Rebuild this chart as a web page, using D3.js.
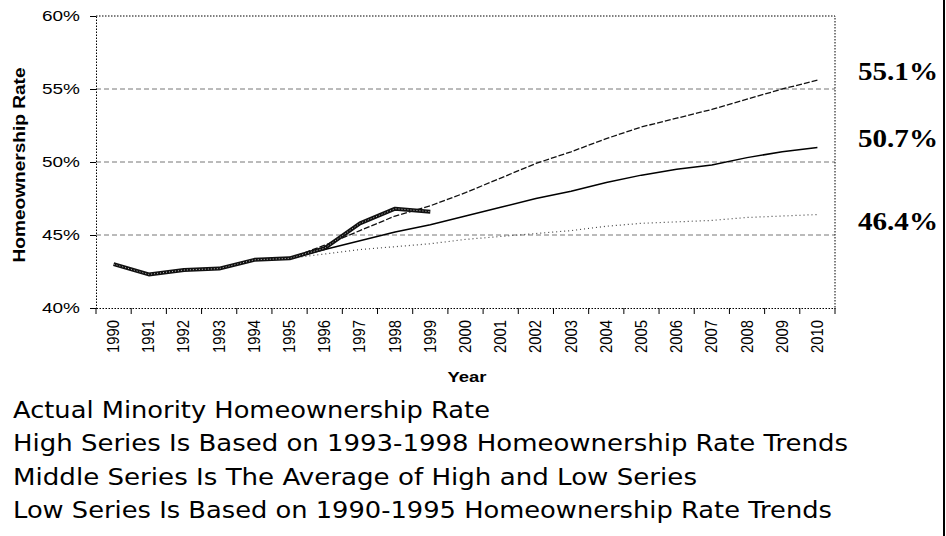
<!DOCTYPE html>
<html>
<head>
<meta charset="utf-8">
<script src="https://cdn.jsdelivr.net/npm/d3@7"></script>
<style>
  body { margin: 0; background: #fff; }
  svg { display: block; }
</style>
</head>
<body>
<div id="chart"></div>
<script>
// Data.
const years = ['1990', '1991', '1992', '1993', '1994', '1995', '1996', '1997', '1998', '1999', '2000',
  '2001', '2002', '2003', '2004', '2005', '2006', '2007', '2008', '2009', '2010'];
const actualYears = ['1990', '1991', '1992', '1993', '1994', '1995', '1996', '1997', '1998', '1999'];
const actual = [43.0, 42.3, 42.6, 42.7, 43.3, 43.4, 44.1, 45.8, 46.8, 46.6];
const projYears = ['1995', '1996', '1997', '1998', '1999', '2000', '2001', '2002',
  '2003', '2004', '2005', '2006', '2007', '2008', '2009', '2010'];
const high = [43.4, 44.3, 45.3, 46.3, 47.0, 47.9, 48.9, 49.9, 50.7, 51.6, 52.4, 53.0, 53.6, 54.3, 55.0, 55.6];
const middle = [43.4, 44.0, 44.6, 45.2, 45.7, 46.3, 46.9, 47.5, 48.0, 48.6, 49.1, 49.5, 49.8, 50.3, 50.7, 51.0];
const low = [43.4, 43.7, 44.0, 44.2, 44.4, 44.7, 44.9, 45.1, 45.3, 45.6, 45.8, 45.9, 46.0, 46.2, 46.3, 46.4];
const yTicks = [40, 45, 50, 55, 60];
const endLabels = ['55.1%', '50.7%', '46.4%'];
const notes = [
  'Actual Minority Homeownership Rate',
  'High Series Is Based on 1993-1998 Homeownership Rate Trends',
  'Middle Series Is The Average of High and Low Series',
  'Low Series Is Based on 1990-1995 Homeownership Rate Trends'
];

// Layout.
const width = 946;
const height = 536;
const plot = { left: 96, right: 835, top: 16, bottom: 308 };
const endLabelY = [80, 147, 230];
const noteWidths = [477, 835, 684, 819];
const sansFont = 'Liberation Sans, Arial, sans-serif';

const svg = d3.select('#chart')
  .append('svg')
  .attr('width', width)
  .attr('height', height);

const x = d3.scaleBand()
  .domain(years)
  .range([plot.left, plot.right])
  .padding(0);

const y = d3.scaleLinear()
  .domain([40, 60])
  .range([plot.bottom, plot.top]);

const cx = d => x(d) + x.bandwidth() / 2;

// Gridlines.
svg.append('g')
  .selectAll('line')
  .data(yTicks.filter(d => d > 40 && d < 60))
  .join('line')
  .attr('x1', plot.left)
  .attr('x2', plot.right)
  .attr('y1', d => y(d))
  .attr('y2', d => y(d))
  .attr('stroke', '#777')
  .attr('stroke-width', 1)
  .attr('stroke-dasharray', '5,3');

// Dotted frame (top and right).
svg.append('path')
  .attr('d', `M${plot.left},${y(60)}H${plot.right}V${plot.bottom}`)
  .attr('fill', 'none')
  .attr('stroke', '#000')
  .attr('stroke-width', 1)
  .attr('stroke-dasharray', '1.5,1.5');

// Y axis.
const yAxis = svg.append('g')
  .attr('transform', `translate(${plot.left},0)`)
  .call(d3.axisLeft(y).tickValues(yTicks).tickFormat(d => d + '%').tickSize(6).tickPadding(10));
yAxis.select('.domain')
  .attr('stroke-dasharray', '1.5,1.5');
yAxis.selectAll('.tick line').attr('stroke', '#000');
yAxis.selectAll('.tick text')
  .attr('font-family', sansFont)
  .attr('font-size', 14)
  .attr('fill', '#000')
  .attr('textLength', 38)
  .attr('lengthAdjust', 'spacingAndGlyphs');

// X axis: labels at band centres, ticks at band edges.
const xAxis = svg.append('g')
  .attr('transform', `translate(0,${plot.bottom})`)
  .call(d3.axisBottom(x).tickSize(0).tickPadding(0));
xAxis.select('.domain')
  .attr('stroke-dasharray', '1.5,1.5');
xAxis.selectAll('.tick text')
  .attr('font-family', sansFont)
  .attr('font-size', 16)
  .attr('fill', '#000')
  .attr('text-anchor', 'end')
  .attr('dy', null)
  .attr('y', 0)
  .attr('dominant-baseline', 'central')
  .attr('transform', 'translate(0,12) rotate(-90)')
  .attr('textLength', 33)
  .attr('lengthAdjust', 'spacingAndGlyphs');

svg.append('g')
  .selectAll('line')
  .data(years.concat(['end']))
  .join('line')
  .attr('x1', d => d === 'end' ? plot.right : x(d))
  .attr('x2', d => d === 'end' ? plot.right : x(d))
  .attr('y1', plot.bottom)
  .attr('y2', plot.bottom + 6)
  .attr('stroke', '#000');

// Axis titles.
svg.append('text')
  .attr('transform', `translate(25,165) rotate(-90)`)
  .attr('text-anchor', 'middle')
  .attr('font-family', sansFont)
  .attr('font-weight', 'bold')
  .attr('font-size', 16)
  .attr('textLength', 195)
  .attr('lengthAdjust', 'spacingAndGlyphs')
  .text('Homeownership Rate');

svg.append('text')
  .attr('x', 467)
  .attr('y', 382)
  .attr('text-anchor', 'middle')
  .attr('font-family', sansFont)
  .attr('font-weight', 'bold')
  .attr('font-size', 15)
  .attr('textLength', 39)
  .attr('lengthAdjust', 'spacingAndGlyphs')
  .text('Year');

// Series.
const line = d3.line()
  .x(d => cx(d[0]))
  .y(d => y(d[1]));

const lines = svg.append('g').attr('fill', 'none');

lines.append('path')
  .datum(d3.zip(projYears, low))
  .attr('d', line)
  .attr('stroke', '#444')
  .attr('stroke-width', 1.2)
  .attr('stroke-dasharray', '1,3');

lines.append('path')
  .datum(d3.zip(projYears, middle))
  .attr('d', line)
  .attr('stroke', '#000')
  .attr('stroke-width', 1.5);

lines.append('path')
  .datum(d3.zip(projYears, high))
  .attr('d', line)
  .attr('stroke', '#111')
  .attr('stroke-width', 1.3)
  .attr('stroke-dasharray', '6,2');

lines.append('path')
  .datum(d3.zip(actualYears, actual))
  .attr('d', line)
  .attr('stroke', '#111')
  .attr('stroke-width', 4)
  .attr('stroke-linejoin', 'round');

lines.append('path')
  .datum(d3.zip(actualYears, actual))
  .attr('d', line)
  .attr('stroke', '#bbb')
  .attr('stroke-width', 1)
  .attr('stroke-dasharray', '1,2');

// End-of-series labels.
svg.append('g')
  .selectAll('text')
  .data(endLabels)
  .join('text')
  .attr('x', 858)
  .attr('y', (d, i) => endLabelY[i])
  .attr('font-family', 'Liberation Serif, Times New Roman, serif')
  .attr('font-weight', 'bold')
  .attr('font-size', 25)
  .attr('textLength', 80)
  .attr('lengthAdjust', 'spacingAndGlyphs')
  .text(d => d);

// Notes under the chart.
svg.append('g')
  .selectAll('text')
  .data(notes)
  .join('text')
  .attr('x', 13)
  .attr('y', (d, i) => 418 + i * 33.4)
  .attr('font-family', 'DejaVu Sans, Verdana, sans-serif')
  .attr('font-size', 22.5)
  .attr('fill', '#000')
  .attr('textLength', (d, i) => noteWidths[i])
  .attr('lengthAdjust', 'spacingAndGlyphs')
  .text(d => d);

// Right border.
svg.append('line')
  .attr('x1', 944)
  .attr('x2', 944)
  .attr('y1', 0)
  .attr('y2', height)
  .attr('stroke', '#000')
  .attr('stroke-width', 2);
</script>
</body>
</html>
